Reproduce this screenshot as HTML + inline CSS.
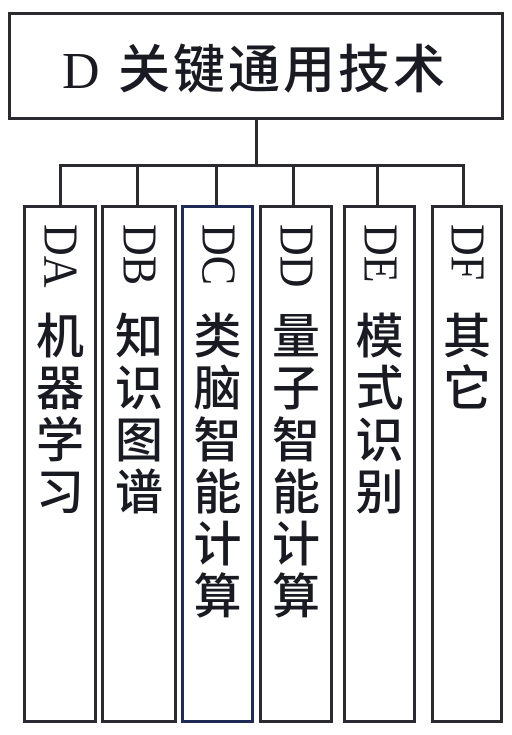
<!DOCTYPE html>
<html><head><meta charset="utf-8"><style>
body{margin:0;width:512px;height:735px;background:#fff;position:relative;overflow:hidden;font-family:"Liberation Serif","Noto Sans CJK SC",serif;color:#1a1a22}
.b{position:absolute;border:3px solid #2a2a30;box-sizing:border-box}
.l{position:absolute;background:#2a2a30}
.col{position:absolute;top:205px;height:518px;border:3px solid #2a2a30;box-sizing:border-box;display:flex;flex-direction:column;align-items:center}
.lat{writing-mode:vertical-rl;font-family:"Liberation Serif",serif;font-size:44px;line-height:50px;margin-top:16px;height:60px;transform:scaleX(1.1)}
.c{font-family:"Noto Sans CJK SC",sans-serif;font-size:48px;line-height:52px;height:52px;font-weight:500}
.sp{height:22px}
</style></head><body>
<div class="b" style="left:8px;top:12px;width:496px;height:108px"></div>
<div style="position:absolute;left:62px;top:36px;font-size:52px;line-height:60px;white-space:nowrap"><span style="font-family:'Liberation Serif',serif;display:inline-block;width:56px">D</span><span style="font-family:'Noto Sans CJK SC',sans-serif;letter-spacing:3px;font-weight:500">关键通用技术</span></div>
<div class="l" style="left:255px;top:119px;width:3px;height:47px"></div>
<div class="l" style="left:59px;top:164px;width:406px;height:3px"></div>
<div class="l" style="left:59px;top:164px;width:3px;height:42px"></div>
<div class="l" style="left:136px;top:164px;width:3px;height:42px"></div>
<div class="l" style="left:215px;top:164px;width:3px;height:42px"></div>
<div class="l" style="left:292px;top:164px;width:3px;height:42px"></div>
<div class="l" style="left:376px;top:164px;width:3px;height:42px"></div>
<div class="l" style="left:462px;top:164px;width:3px;height:42px"></div>

<div class="col" style="left:23px;width:74px"><div class="lat">DA</div><div class="sp"></div><div class="c">机</div><div class="c">器</div><div class="c">学</div><div class="c">习</div></div>
<div class="col" style="left:101px;width:76px"><div class="lat">DB</div><div class="sp"></div><div class="c">知</div><div class="c">识</div><div class="c">图</div><div class="c">谱</div></div>
<div class="col" style="left:181px;width:73px;border-color:#1f2a55"><div class="lat">DC</div><div class="sp"></div><div class="c">类</div><div class="c">脑</div><div class="c">智</div><div class="c">能</div><div class="c">计</div><div class="c">算</div></div>
<div class="col" style="left:259px;width:74px"><div class="lat">DD</div><div class="sp"></div><div class="c">量</div><div class="c">子</div><div class="c">智</div><div class="c">能</div><div class="c">计</div><div class="c">算</div></div>
<div class="col" style="left:343px;width:73px"><div class="lat">DE</div><div class="sp"></div><div class="c">模</div><div class="c">式</div><div class="c">识</div><div class="c">别</div></div>
<div class="col" style="left:431px;width:72px"><div class="lat">DF</div><div class="sp"></div><div class="c">其</div><div class="c">它</div></div>
</body></html>
